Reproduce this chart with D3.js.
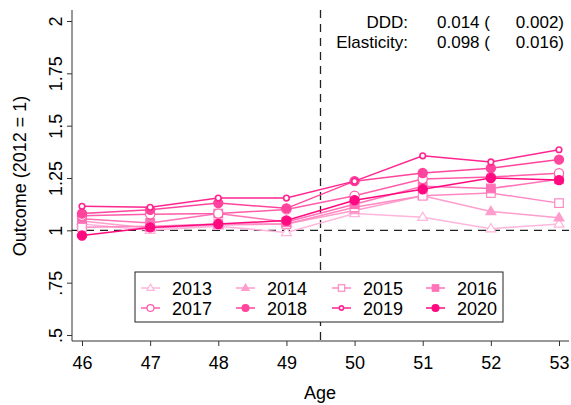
<!DOCTYPE html>
<html><head><meta charset="utf-8">
<script src="https://cdn.jsdelivr.net/npm/d3@7"></script>
<style>body{margin:0;background:#fff}svg{display:block;font-family:"Liberation Sans",Arial,Helvetica,sans-serif}</style>
</head><body>
<script>
const ages = [46,47,48,49,50,51,52,53];
const years = ["2013","2014","2015","2016","2017","2018","2019","2020"];
const v2013 = [1.03,1.00,1.02,0.99,1.08,1.062,1.008,1.03];
const v2014 = [1.045,1.01,1.025,1.03,1.095,1.165,1.09,1.06];
const v2015 = [1.015,1.02,1.03,1.03,1.11,1.165,1.178,1.13];
const v2016 = [1.055,1.035,1.08,1.04,1.125,1.21,1.2,1.244];
const v2017 = [1.07,1.077,1.08,1.1,1.165,1.245,1.255,1.273];
const v2018 = [1.08,1.098,1.13,1.105,1.235,1.274,1.297,1.338];
const v2019 = [1.115,1.11,1.154,1.154,1.235,1.356,1.327,1.385];
const v2020 = [0.975,1.014,1.03,1.047,1.144,1.196,1.25,1.24];
const seriesValues = [v2013,v2014,v2015,v2016,v2017,v2018,v2019,v2020];
const colors = ["#ffb6dc","#ff9dcd","#ff89c3","#ff72b7","#ff5caa","#ff449d","#ff2590","#ff0a80"];
const markers = ["tri-o","tri","sq-o","sq","circ-o","circ","smcirc","circ"];
const yTicks = [0.5,0.75,1,1.25,1.5,1.75,2];
const yTickLabels = [".5",".75","1","1.25","1.5","1.75","2"];
const annoRows = [["DDD:","0.014 (","0.002)"],["Elasticity:","0.098 (","0.016)"]];
const refX = 49.5, refY = 1;

(function(){
const W=571,H=405;
const svg=d3.select("body").append("svg").attr("width",W).attr("height",H);
const x=d3.scaleLinear().domain([46,53]).range([82,559]);
const y=d3.scaleLinear().domain([0.5,2]).range([335,21]);
const pL=72,pR=569,pB=341,pT=10;

const yAxis=svg.append("g").attr("transform",`translate(${pL},0)`)
  .call(d3.axisLeft(y).tickValues(yTicks).tickFormat((d,i)=>yTickLabels[i]).tickSize(5).tickSizeOuter(0));
yAxis.select(".domain").attr("d",`M0,${pT}V${pB}`).attr("stroke","#333");
yAxis.selectAll(".tick line").attr("stroke","#333");
yAxis.selectAll(".tick text").attr("font-size",18).attr("fill","#000")
  .attr("x",0).attr("y",0).attr("dy",0).attr("text-anchor","middle")
  .attr("transform","translate(-10,0) rotate(-90)");

const xAxis=svg.append("g").attr("transform",`translate(0,${pB})`)
  .call(d3.axisBottom(x).tickValues(ages).tickFormat(d3.format("d")).tickSize(5).tickSizeOuter(0));
xAxis.select(".domain").attr("d",`M${pL},0H${pR}`).attr("stroke","#333");
xAxis.selectAll(".tick line").attr("stroke","#333");
xAxis.selectAll(".tick text").attr("font-size",18).attr("fill","#000").attr("y",10).attr("dy","1em");

svg.append("text").attr("x",320).attr("y",399).attr("text-anchor","middle").attr("font-size",18).text("Age");
svg.append("text").attr("transform",`translate(26,176) rotate(-90)`).attr("text-anchor","middle").attr("font-size",18).text("Outcome (2012 = 1)");

svg.append("line").attr("x1",pL).attr("x2",pR).attr("y1",y(refY)).attr("y2",y(refY))
  .attr("stroke","#222").attr("stroke-width",1.3).attr("stroke-dasharray","8,6");
svg.append("line").attr("x1",x(refX)).attr("x2",x(refX)).attr("y1",pT).attr("y2",pB)
  .attr("stroke","#222").attr("stroke-width",1.3).attr("stroke-dasharray","8,6");

function drawMarker(g,type,cx,cy,col,scale){
  scale=scale||1;
  if(type==="tri"||type==="tri-o"){
    const r=5.2*scale;
    g.append("path").attr("d",`M${cx},${cy-r}L${cx+r*0.95},${cy+r*0.6}L${cx-r*0.95},${cy+r*0.6}Z`)
      .attr("fill",type==="tri"?col:"#fff").attr("stroke",col).attr("stroke-width",1.2);
  } else if(type==="sq"||type==="sq-o"){
    const s=4.3*scale;
    g.append("rect").attr("x",cx-s).attr("y",cy-s).attr("width",2*s).attr("height",2*s)
      .attr("fill",type==="sq"?col:"#fff").attr("stroke",col).attr("stroke-width",1.2);
  } else if(type==="circ"||type==="circ-o"){
    g.append("circle").attr("cx",cx).attr("cy",cy).attr("r",4.6*scale)
      .attr("fill",type==="circ"?col:"#fff").attr("stroke",col).attr("stroke-width",1.2);
  } else {
    g.append("circle").attr("cx",cx).attr("cy",cy).attr("r",2.8*scale)
      .attr("fill","#fff").attr("stroke",col).attr("stroke-width",1.6);
  }
}

const line=d3.line().x((d,i)=>x(ages[i])).y(d=>y(d));
seriesValues.forEach((vals,k)=>{
  const g=svg.append("g");
  g.append("path").attr("d",line(vals)).attr("fill","none").attr("stroke",colors[k]).attr("stroke-width",1.5);
  vals.forEach((v,i)=>drawMarker(g,markers[k],x(ages[i]),y(v),colors[k]));
});

annoRows.forEach((r,i)=>{
  const yy=28+i*20;
  svg.append("text").attr("x",408).attr("y",yy).attr("text-anchor","end").attr("font-size",17).text(r[0]);
  svg.append("text").attr("x",437).attr("y",yy).attr("font-size",17).text(r[1]);
  svg.append("text").attr("x",564).attr("y",yy).attr("text-anchor","end").attr("font-size",17).text(r[2]);
});

const lg=svg.append("g");
lg.append("rect").attr("x",135).attr("y",272).attr("width",368).attr("height",50)
  .attr("fill","#fff").attr("stroke","#222").attr("stroke-width",1);
const colX=[141,236,332,426];
years.forEach((yr,k)=>{
  const col=k%4,row=Math.floor(k/4);
  const lx=colX[col],ly=288+row*20;
  lg.append("line").attr("x1",lx).attr("x2",lx+19).attr("y1",ly).attr("y2",ly).attr("stroke",colors[k]).attr("stroke-width",1.5);
  drawMarker(lg,markers[k],lx+9.5,ly,colors[k],0.75);
  lg.append("text").attr("x",lx+31).attr("y",ly+6.5).attr("font-size",18).text(yr);
});
})();
</script>
</body></html>
